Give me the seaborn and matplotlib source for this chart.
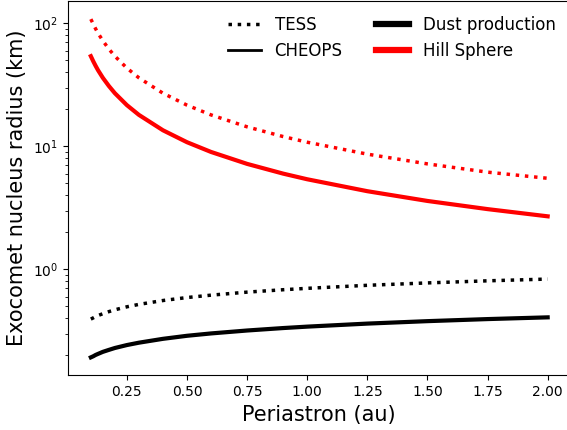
import matplotlib
matplotlib.use("Agg")
import matplotlib.pyplot as plt
from matplotlib.lines import Line2D
import seaborn as sns
import numpy as np
import pandas as pd

# Periastron grid (au)
periastron = [0.10, 0.11, 0.12, 0.13, 0.15, 0.175, 0.20, 0.25, 0.30, 0.40, 0.50, 0.60,
              0.75, 0.90, 1.00, 1.25, 1.50, 1.75, 2.00]

# Dust production limits (km)
dust_tess = [0.395, 0.404, 0.414, 0.422, 0.437, 0.454, 0.470, 0.497, 0.520, 0.559,
             0.591, 0.618, 0.654, 0.684, 0.702, 0.743, 0.777, 0.808, 0.835]
dust_cheops = [0.193, 0.197, 0.202, 0.206, 0.214, 0.222, 0.230, 0.243, 0.254, 0.273,
               0.289, 0.302, 0.319, 0.334, 0.343, 0.363, 0.380, 0.395, 0.408]

# Hill sphere limits (km)
hill_tess = [108, 98.5, 90, 83, 72, 61.7, 54, 43.2, 36, 27, 21.6, 18, 14.4, 12,
             10.8, 8.64, 7.2, 6.17, 5.5]
hill_cheops = [54, 49.1, 45, 41.5, 36, 30.9, 27, 21.6, 18, 13.5, 10.8, 9.0, 7.2,
               6.0, 5.4, 4.32, 3.6, 3.09, 2.7]

legend_labels = ["TESS", "CHEOPS", "Dust production", "Hill Sphere"]
x_label = "Periastron (au)"
y_label = "Exocomet nucleus radius (km)"

plt.rcParams["font.family"] = ["DejaVu Sans"]

fig = plt.figure(figsize=(5.67, 4.30), dpi=100)
ax = fig.add_axes([68 / 567, 54.7 / 430, 502.5 / 567, 374.8 / 430])

sns.lineplot(x=periastron, y=hill_tess, ax=ax, color="red", lw=2.5, linestyle=":")
sns.lineplot(x=periastron, y=hill_cheops, ax=ax, color="red", lw=3, linestyle="-")
sns.lineplot(x=periastron, y=dust_tess, ax=ax, color="black", lw=2.5, linestyle=":")
sns.lineplot(x=periastron, y=dust_cheops, ax=ax, color="black", lw=3, linestyle="-")

ax.set_yscale("log")
ax.set_xlim(0.005, 2.095)
ax.set_ylim(0.138, 153)
ax.set_xticks([0.25, 0.50, 0.75, 1.00, 1.25, 1.50, 1.75, 2.00])
ax.tick_params(axis="both", labelsize=10)
ax.set_xlabel(x_label, fontsize=15)
ax.set_ylabel(y_label, fontsize=15)

handles = [
    Line2D([], [], color="black", lw=2.5, linestyle=":"),
    Line2D([], [], color="black", lw=2),
    Line2D([], [], color="black", lw=4.5),
    Line2D([], [], color="red", lw=4.5),
]
ax.legend(handles, legend_labels, ncol=2, frameon=False, fontsize=12,
          loc="upper right")

fig.savefig("out.png", dpi=100)
